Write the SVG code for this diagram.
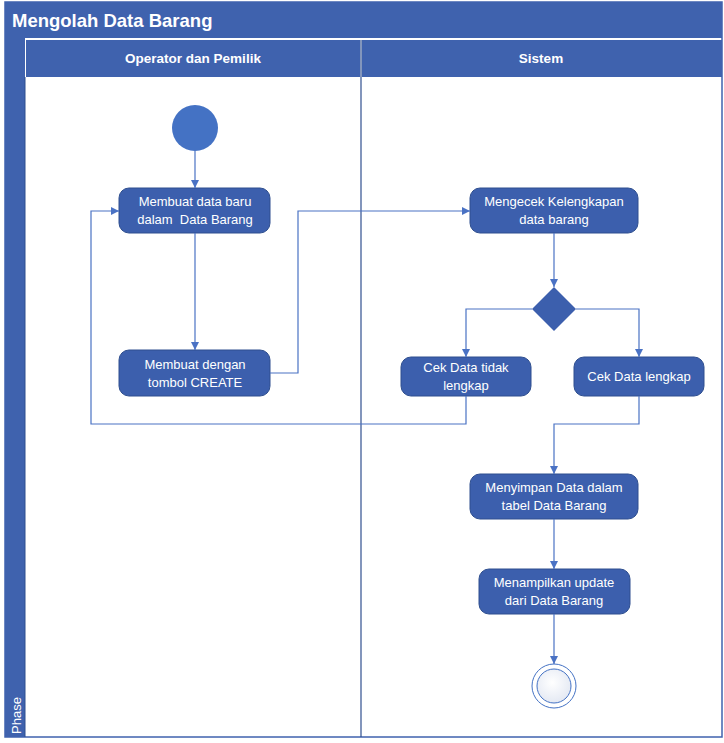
<svg xmlns="http://www.w3.org/2000/svg" width="724" height="743" viewBox="0 0 724 743">
<style>
.band{fill:#3F62AE;}
.node rect{fill:#3C5FAD;stroke:#2F4F8F;stroke-width:1;}
.node text{fill:#ffffff;font-family:"Liberation Sans",Arial,sans-serif;font-size:13px;text-anchor:middle;}
.hdr{fill:#ffffff;font-family:"Liberation Sans",Arial,sans-serif;font-weight:bold;font-size:13.5px;text-anchor:middle;}
.conn path{fill:none;stroke:#4A72C4;stroke-width:1.2;marker-end:url(#arr);}
</style>
<defs>
<marker id="arr" viewBox="0 0 10 10" refX="10" refY="5" markerWidth="8" markerHeight="8" markerUnits="userSpaceOnUse" orient="auto">
<path d="M0,0 L10,5 L0,10 z" fill="#4A72C4"/>
</marker>
<radialGradient id="fin" cx="0.45" cy="0.4" r="0.6">
<stop offset="0" stop-color="#ffffff"/>
<stop offset="1" stop-color="#e4e9f3"/>
</radialGradient>
</defs>
<g id="frame">
<rect x="5" y="2" width="717" height="735" fill="#ffffff" stroke="#3F62AE" stroke-width="1.5"/>
<rect class="band" x="5" y="2" width="717" height="36"/>
<text x="12" y="27" fill="#ffffff" font-family="'Liberation Sans',Arial,sans-serif" font-weight="bold" font-size="18.5">Mengolah Data Barang</text>
<rect class="band" x="5" y="38" width="20" height="699"/>
<text transform="translate(21,734) rotate(-90)" fill="#ffffff" font-family="'Liberation Sans',Arial,sans-serif" font-size="13">Phase</text>
<rect class="band" x="26" y="40" width="334" height="37"/>
<rect class="band" x="362" y="40" width="360" height="37"/>
<text class="hdr" x="193" y="63">Operator dan Pemilik</text>
<text class="hdr" x="541" y="63">Sistem</text>
<line x1="361" y1="40" x2="361" y2="737" stroke="#2F4F8F" stroke-width="1.2"/>
<line x1="25" y1="77" x2="25" y2="737" stroke="#2F4F8F" stroke-width="1"/>
</g>
<g id="start"><circle cx="195" cy="128" r="23" fill="#4472C4"/></g>
<g id="n1" class="node"><rect x="119" y="188" width="151" height="45" rx="10"/><text x="195" y="206">Membuat data baru</text><text x="195" y="224" xml:space="preserve">dalam  Data Barang</text></g>
<g id="n2" class="node"><rect x="119" y="350" width="151" height="46" rx="10"/><text x="195" y="369">Membuat dengan</text><text x="195" y="387">tombol CREATE</text></g>
<g id="n3" class="node"><rect x="470" y="188" width="168" height="45" rx="10"/><text x="554" y="206">Mengecek Kelengkapan</text><text x="554" y="224">data barang</text></g>
<g id="dec"><polygon points="554,287 576,309 554,331 532,309" fill="#3C5FAD"/></g>
<g id="n4" class="node"><rect x="401" y="357" width="130" height="39" rx="10"/><text x="466" y="372">Cek Data tidak</text><text x="466" y="390">lengkap</text></g>
<g id="n5" class="node"><rect x="574" y="357" width="130" height="39" rx="10"/><text x="639" y="381">Cek Data lengkap</text></g>
<g id="n6" class="node"><rect x="470" y="474" width="168" height="45" rx="10"/><text x="554" y="492">Menyimpan Data dalam</text><text x="554" y="510">tabel Data Barang</text></g>
<g id="n7" class="node"><rect x="479" y="569" width="151" height="45" rx="10"/><text x="554" y="587">Menampilkan update</text><text x="554" y="605">dari Data Barang</text></g>
<g id="end"><circle cx="554" cy="686" r="22" fill="#ffffff" stroke="#4472C4" stroke-width="1"/><circle cx="554" cy="686" r="17" fill="url(#fin)" stroke="#4472C4" stroke-width="1"/></g>
<g id="connectors" class="conn">
<path d="M195,151 L195,188"/>
<path d="M195,233 L195,350"/>
<path d="M270,373 L298,373 L298,211 L470,211"/>
<path d="M554,233 L554,287"/>
<path d="M532,309 L466,309 L466,357"/>
<path d="M576,309 L639,309 L639,357"/>
<path d="M466,396 L466,424 L91,424 L91,211 L119,211"/>
<path d="M639,396 L639,424 L554,424 L554,474"/>
<path d="M554,519 L554,569"/>
<path d="M554,614 L554,664"/>
</g>
</svg>
